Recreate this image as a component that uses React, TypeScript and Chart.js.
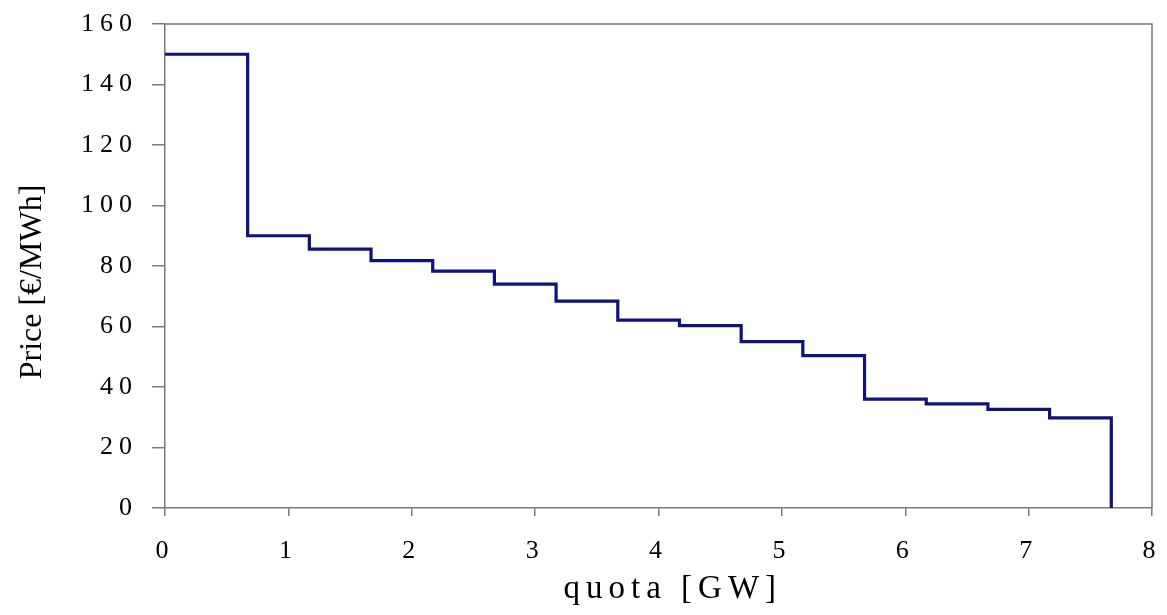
import React, { useEffect, useRef } from "react";
import { Chart, registerables } from "chart.js";

Chart.register(...registerables);

// Step start positions (GW) and the price held on each step (€/MWh)
const stepStarts: number[] = [0, 0.67, 1.17, 1.67, 2.17, 2.67, 3.17, 3.67, 4.17, 4.67, 5.17, 5.67, 6.17, 6.67, 7.17];
const stepPrices: number[] = [150, 90, 85.6, 81.8, 78.3, 74.0, 68.4, 62.1, 60.3, 55.0, 50.4, 36.0, 34.4, 32.6, 29.8];
const curveEnd: number = 7.67;
const curveEndPrice: number = 0;

const xTitle = "quota [GW]";
const yTitle = "Price [€/MWh]";

const FONT = "'Liberation Serif', 'Times New Roman', serif";
const AXIS_COLOR = "#7a7a7a";

const textPlugin = {
  id: "textPlugin",
  afterLayout(chart: any) {
    const ys = chart.scales.y;
    if (ys && !ys.__wrapped) {
      const orig = ys.drawTitle.bind(ys);
      ys.drawTitle = function () {
        const c = chart.ctx;
        const prev = c.letterSpacing;
        c.letterSpacing = "0px";
        orig();
        c.letterSpacing = prev;
      };
      ys.__wrapped = true;
    }
  },
  beforeDraw(chart: any) {
    chart.ctx.letterSpacing = "6px";
  },
  afterDraw(chart: any) {
    const { ctx, chartArea } = chart;
    ctx.letterSpacing = "0px";
    ctx.save();
    ctx.strokeStyle = AXIS_COLOR;
    ctx.lineWidth = 1.5;
    ctx.beginPath();
    ctx.moveTo(chartArea.left, chartArea.top);
    ctx.lineTo(chartArea.right, chartArea.top);
    ctx.lineTo(chartArea.right, chartArea.bottom);
    ctx.stroke();
    ctx.restore();
  },
};

export default function App() {
  const canvasRef = useRef<HTMLCanvasElement | null>(null);

  useEffect(() => {
    document.body.style.margin = "0";
    const canvas = canvasRef.current;
    if (!canvas) return;

    const points = stepStarts.map((x, i) => ({ x, y: stepPrices[i] }));
    points.push({ x: curveEnd, y: curveEndPrice });

    const chart = new Chart(canvas, {
      type: "line",
      data: {
        datasets: [
          {
            data: points,
            borderColor: "#10107e",
            borderWidth: 3.2,
            pointRadius: 0,
            stepped: true,
            fill: false,
          } as any,
        ],
      },
      options: {
        animation: false,
        responsive: false,
        devicePixelRatio: 1,
        layout: { padding: { left: 0, top: 24, right: 15, bottom: 0 } },
        plugins: {
          legend: { display: false },
          tooltip: { enabled: false },
        },
        scales: {
          x: {
            type: "linear",
            min: 0,
            max: 8,
            afterFit: (scale: any) => {
              scale.height = 107;
            },
            ticks: {
              stepSize: 1,
              color: "#000",
              font: { family: FONT, size: 26, lineHeight: 2.5 },
              padding: 3,
            },
            grid: {
              drawOnChartArea: false,
              drawTicks: true,
              tickLength: 8,
              color: AXIS_COLOR,
              lineWidth: 1.5,
            },
            border: { color: AXIS_COLOR, width: 1.5 },
            title: {
              display: true,
              text: "  " + xTitle,
              color: "#000",
              font: { family: FONT, size: 33 },
              padding: { top: 0, bottom: 6 },
            },
          },
          y: {
            min: 0,
            max: 160,
            afterFit: (scale: any) => {
              scale.width = 165;
            },
            ticks: {
              stepSize: 20,
              color: "#000",
              font: { family: FONT, size: 26, lineHeight: 0.5 },
              padding: 14,
            },
            grid: {
              drawOnChartArea: false,
              drawTicks: true,
              tickLength: 13,
              color: AXIS_COLOR,
              lineWidth: 1.5,
            },
            border: { color: AXIS_COLOR, width: 1.5 },
            title: {
              display: true,
              text: yTitle + "    ",
              color: "#000",
              font: { family: FONT, size: 32 },
              padding: { top: 13, bottom: 0 },
            },
          },
        },
      } as any,
      plugins: [textPlugin],
    });

    return () => chart.destroy();
  }, []);

  return (
    <div style={{ width: 1167, height: 615, position: "relative", background: "#fff" }}>
      <canvas ref={canvasRef} width={1167} height={615} style={{ display: "block", width: 1167, height: 615 }} />
    </div>
  );
}
